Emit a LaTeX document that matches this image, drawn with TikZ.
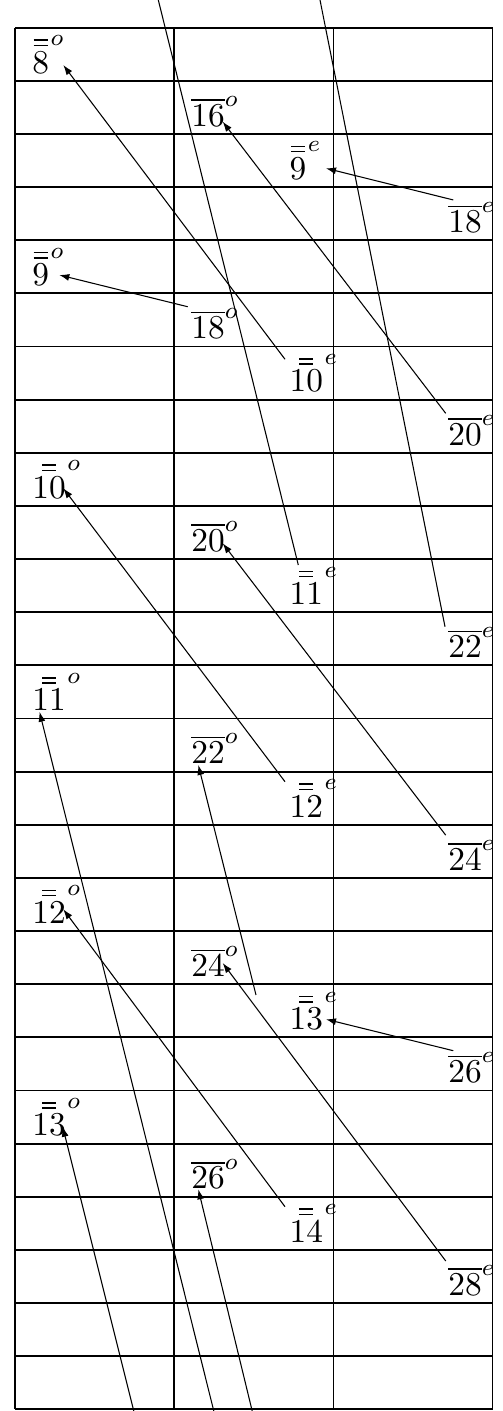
\documentclass[tikz,border=0pt]{standalone}
\usetikzlibrary{arrows.meta}
\newsavebox\labbox
\newcommand{\eqbar}{\vbox{\hrule width 4.2pt height 0.45pt\vskip 1.1pt\hrule width 4.2pt height 0.45pt}}
\newcommand{\dlab}[2]{%
  \sbox\labbox{$#1$}%
  \rlap{\hbox to \wd\labbox{\hss\raisebox{8.1pt}{\eqbar}\hss}}%
  \usebox\labbox\kern0.4pt\raisebox{8.2pt}{$\scriptstyle #2$}}
\begin{document}
\begin{tikzpicture}[x=0.3pt,y=-0.3pt,
  gridline/.style={line width=0.55pt},
  conn/.style={line width=0.32pt},
  arr/.style={conn,-{Latex[length=3pt,width=2.1pt]}},
  lab/.style={inner sep=0pt,anchor=base west}]
\useasboundingbox (0,0) rectangle (502,1411);
% grid
\foreach \k in {0,...,26} \draw[gridline] (15,{27.7+\k*53.14}) -- (492.5,{27.7+\k*53.14});
\foreach \x in {15,174,333.5,492.5} \draw[gridline] (\x,27.7) -- (\x,1409.3);
% labels
\node[lab] (o8)  at (31.7,73.04)   {\dlab{8}{o}};
\node[lab] (O16) at (190.7,126.18) {$\overline{16}^o$};
\node[lab] (e9)  at (289,179.32)   {\dlab{9}{e}};
\node[lab] (E18) at (447.7,232.46) {$\overline{18}^e$};
\node[lab] (o9)  at (31.7,285.6)   {\dlab{9}{o}};
\node[lab] (O18) at (190.7,338.74) {$\overline{18}^o$};
\node[lab] (e10) at (289,391.88)   {\dlab{10}{e}};
\node[lab] (E20) at (447.7,445.02) {$\overline{20}^e$};
\node[lab] (o10) at (31.7,498.16)  {\dlab{10}{o}};
\node[lab] (O20) at (190.7,551.3)  {$\overline{20}^o$};
\node[lab] (e11) at (289,604.44)   {\dlab{11}{e}};
\node[lab] (E22) at (447.7,657.58) {$\overline{22}^e$};
\node[lab] (o11) at (31.7,710.72)  {\dlab{11}{o}};
\node[lab] (O22) at (190.7,763.86) {$\overline{22}^o$};
\node[lab] (e12) at (289,817.0)    {\dlab{12}{e}};
\node[lab] (E24) at (447.7,870.14) {$\overline{24}^e$};
\node[lab] (o12) at (31.7,923.28)  {\dlab{12}{o}};
\node[lab] (O24) at (190.7,976.42) {$\overline{24}^o$};
\node[lab] (e13) at (289,1029.56)  {\dlab{13}{e}};
\node[lab] (E26) at (447.7,1082.7) {$\overline{26}^e$};
\node[lab] (o13) at (31.7,1135.84) {\dlab{13}{o}};
\node[lab] (O26) at (190.7,1188.98){$\overline{26}^o$};
\node[lab] (e14) at (289,1242.12)  {\dlab{14}{e}};
\node[lab] (E28) at (447.7,1295.26){$\overline{28}^e$};
% free ends
\coordinate (t1) at (158.3,0);
\coordinate (t2) at (320,0);
\coordinate (b1) at (133.8,1411);
\coordinate (b2) at (213.8,1411);
\coordinate (b3) at (252.2,1411);
% connectors
\draw[arr] ([shift={(-4,-32.6)}]e10.base west) -- ([shift={(31.6,-8)}]o8.base west);
\draw[arr] ([shift={(-2,-31.7)}]E20.base west) -- ([shift={(32,-4.5)}]O16.base west);
\draw[arr] ([shift={(5.6,-32.5)}]E18.base west) -- ([shift={(37,-11)}]e9.base west);
\draw[arr] ([shift={(-3,-32)}]O18.base west) -- ([shift={(27.6,-10.6)}]o9.base west);
\draw[arr] ([shift={(-4,-35.3)}]e12.base west) -- ([shift={(31.6,-9.9)}]o10.base west);
\draw[arr] ([shift={(-2,-35)}]E24.base west) -- ([shift={(32,-8)}]O20.base west);
\draw[arr] ([shift={(-4,-35.4)}]e14.base west) -- ([shift={(31.6,-14)}]o12.base west);
\draw[arr] ([shift={(-2,-34.3)}]E28.base west) -- ([shift={(32,-13.4)}]O24.base west);
\draw[arr] ([shift={(5.6,-32)}]E26.base west) -- ([shift={(37,-10.3)}]e13.base west);
\draw[arr] ([shift={(-33,-34.6)}]e13.base west) -- ([shift={(7.6,1.1)}]O22.base west);
\draw[conn] ([shift={(9.3,-39.4)}]e11.base west) -- (t1);
\draw[conn] ([shift={(-2.7,-30.9)}]E22.base west) -- (t2);
\draw[arr] (b1) -- ([shift={(31,-9.1)}]o13.base west);
\draw[arr] (b2) -- ([shift={(7.8,1)}]o11.base west);
\draw[arr] (b3) -- ([shift={(7.6,0.3)}]O26.base west);
\end{tikzpicture}
\end{document}
